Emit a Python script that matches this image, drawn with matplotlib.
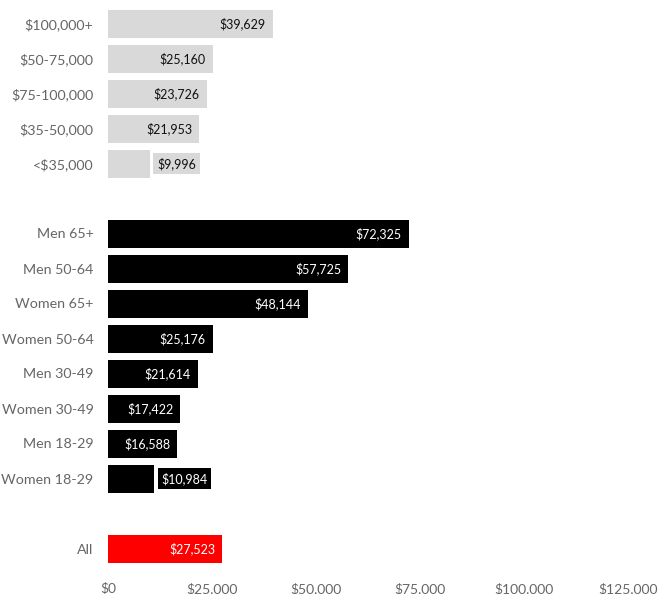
import numpy as np
import matplotlib.pyplot as plt
from matplotlib.ticker import FuncFormatter

plt.rcParams['font.family'] = ['Lato', 'DejaVu Sans']

# Median wealth by group (dollars)
income_labels = ["$100,000+", "$50-75,000", "$75-100,000", "$35-50,000", "<$35,000"]
income_values = [39629, 25160, 23726, 21953, 9996]

demo_labels = ["Men 65+", "Men 50-64", "Women 65+", "Women 50-64",
               "Men 30-49", "Women 30-49", "Men 18-29", "Women 18-29"]
demo_values = [72325, 57725, 48144, 25176, 21614, 17422, 16588, 10984]

all_label = ["All"]
all_value = [27523]

x_ticks = [0, 25000, 50000, 75000, 100000, 125000]


def main():
    fig = plt.figure(figsize=(6.59, 5.94), dpi=100)
    W, H = 659, 594
    # axes: x from 108px to 628px, rows 35px apart starting at 23px
    ax = fig.add_axes([108 / W, 1 - 566 / H, 520 / W, 560 / H])

    groups = [
        (income_labels, income_values, "#d9d9d9", "#111111"),
        (demo_labels, demo_values, "#000000", "#ffffff"),
        (all_label, all_value, "#ff0000", "#ffffff"),
    ]

    ypos, ylabels = [], []
    row = 0
    for labels, values, color, text_color in groups:
        for lab, val in zip(labels, values):
            ax.barh(row, val, height=0.8, color=color)
            if val < 12000:
                # narrow bar: put the label just outside, boxed in the bar colour
                ax.annotate(f"${val:,}", (val, row), xytext=(5.5, 0),
                            textcoords="offset points", ha="left", va="center",
                            fontsize=9, color=text_color,
                            bbox=dict(boxstyle="square,pad=0.3", fc=color, ec="none"))
            else:
                ax.annotate(f"${val:,}", (val, row), xytext=(-5, 0),
                            textcoords="offset points", ha="right", va="center",
                            fontsize=9, color=text_color)
            ypos.append(row)
            ylabels.append(lab)
            row += 1
        row += 1  # blank row between groups

    ax.set_ylim(row - 1.5, -0.5)
    ax.set_xlim(0, 125000)
    ax.set_yticks(ypos)
    ax.set_yticklabels(ylabels, fontsize=10.3, color="#666666")
    ax.set_xticks(x_ticks)
    ax.xaxis.set_major_formatter(FuncFormatter(lambda v, p: f"${v:,.0f}"))
    ax.tick_params(axis="x", labelsize=10, colors="#666666", length=0, pad=11.5)
    ax.tick_params(axis="y", length=0, pad=10.5)
    for s in ax.spines.values():
        s.set_visible(False)

    fig.savefig("out.png", dpi=100)


if __name__ == "__main__":
    main()
